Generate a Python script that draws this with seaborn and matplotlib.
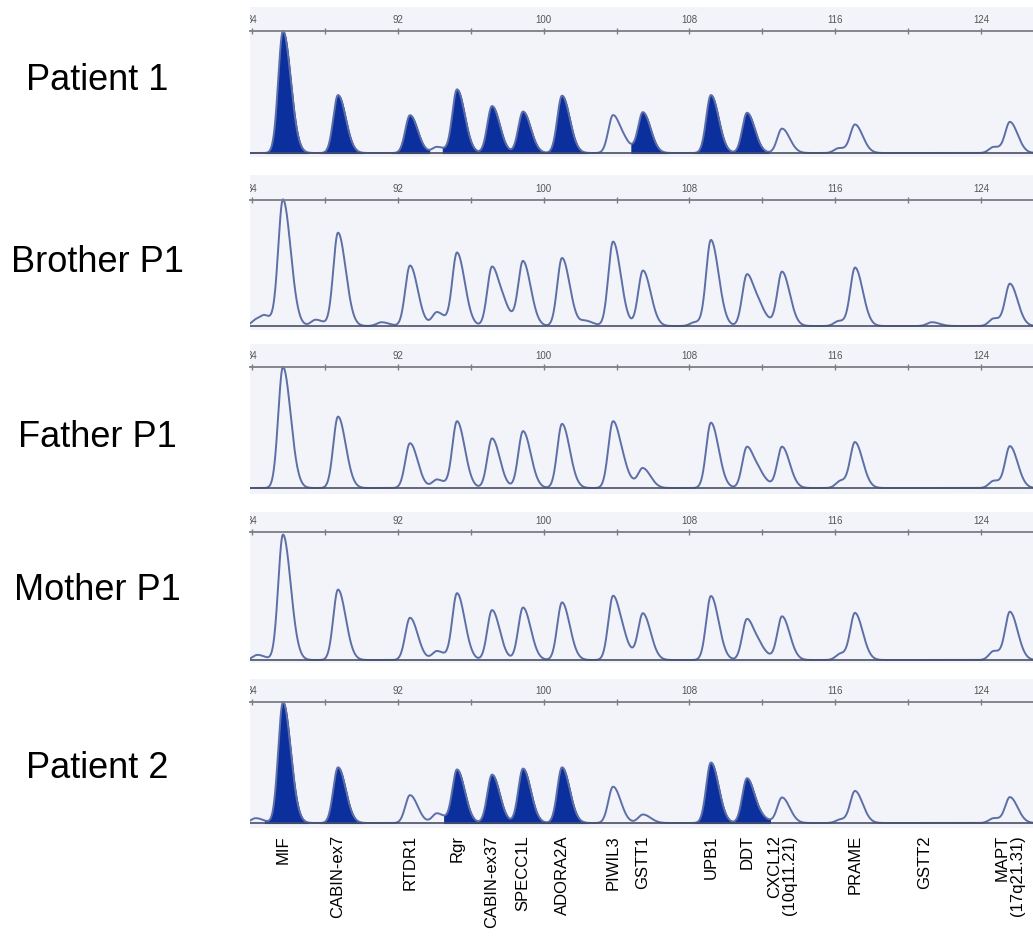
import numpy as np
import pandas as pd
import matplotlib
matplotlib.use("Agg")
import matplotlib.pyplot as plt
import matplotlib.transforms as mtransforms
import seaborn as sns

# probe positions (size units) and names
probes = ['MIF', 'CABIN-ex7', 'RTDR1', '', 'Rgr', 'CABIN-ex37', 'SPECC1L', 'ADORA2A',
          'PIWIL3', 'GSTT1', 'UPB1', 'DDT', 'CXCL12\n(10q11.21)', 'PRAME', 'GSTT2',
          'MAPT\n(17q21.31)']
positions = [85.70, 88.72, 92.67, 94.15, 95.25, 97.17, 98.87, 101.01,
             103.81, 105.45, 109.18, 111.16, 113.08, 117.09, 120.93, 125.59]

samples = ['Patient 1', 'Brother P1', 'Father P1', 'Mother P1', 'Patient 2']

# relative peak heights per sample (same order as probes)
h_patient1 = [1.00, 0.475, 0.31, 0.05, 0.52, 0.385, 0.34, 0.47,
              0.31, 0.33, 0.475, 0.33, 0.20, 0.23, 0.0, 0.25]
h_brother = [1.00, 0.74, 0.48, 0.11, 0.58, 0.47, 0.51, 0.54,
             0.67, 0.44, 0.68, 0.41, 0.43, 0.46, 0.0, 0.33]
h_father = [1.00, 0.59, 0.37, 0.07, 0.55, 0.41, 0.47, 0.53,
            0.55, 0.16, 0.54, 0.34, 0.34, 0.37, 0.0, 0.34]
h_mother = [0.98, 0.55, 0.33, 0.07, 0.52, 0.39, 0.41, 0.45,
            0.50, 0.36, 0.50, 0.32, 0.34, 0.36, 0.0, 0.37]
h_patient2 = [1.00, 0.46, 0.23, 0.08, 0.44, 0.40, 0.45, 0.46,
              0.30, 0.07, 0.50, 0.37, 0.21, 0.26, 0.0, 0.21]
heights = [h_patient1, h_brother, h_father, h_mother, h_patient2]

# small shoulders / baseline bumps (position, height)
bumps_patient1 = [(104.55, 0.05), (116.2, 0.04), (124.7, 0.05)]
bumps_brother = [(84.25, 0.05), (84.75, 0.06), (87.5, 0.05), (91.1, 0.03), (97.9, 0.10),
                 (102.3, 0.04), (108.3, 0.03), (111.9, 0.10), (116.2, 0.04),
                 (121.3, 0.03), (124.7, 0.06)]
bumps_father = [(104.5, 0.07), (111.9, 0.08), (116.3, 0.06), (124.7, 0.06)]
bumps_mother = [(84.3, 0.04), (104.5, 0.07), (111.9, 0.07), (116.3, 0.05), (124.7, 0.07)]
bumps_patient2 = [(84.2, 0.04), (112.0, 0.03), (116.3, 0.03), (124.7, 0.04)]
bumps = [bumps_patient1, bumps_brother, bumps_father, bumps_mother, bumps_patient2]

# which peaks are drawn filled (dosage-changed probes)
filled_patient1 = ['MIF', 'CABIN-ex7', 'RTDR1', 'Rgr', 'CABIN-ex37', 'SPECC1L',
                   'ADORA2A', 'GSTT1', 'UPB1', 'DDT']
filled_patient2 = ['MIF', 'CABIN-ex7', 'Rgr', 'CABIN-ex37', 'SPECC1L', 'ADORA2A',
                   'UPB1', 'DDT']
filled = [filled_patient1, [], [], [], filled_patient2]

major_ticks = [84, 92, 100, 108, 116, 124]
minor_ticks = [88, 96, 104, 112, 120]

# panel geometry in pixels: top, axis line, baseline, bottom
panels_px = [(7, 31, 153, 157), (175, 200, 326, 330), (344, 367, 488, 494),
             (512, 532, 660, 663), (679, 702, 823, 828)]
label_y_px = [80, 262, 437, 590, 768]

W, H = 1033, 938
xmin, xmax = 83.89, 126.85
x = np.linspace(xmin, xmax, 5000)

line_col = '#5d6fa6'
fill_col = '#0b2f9c'
bg_col = '#f2f4fa'

sns.set_style('white')
plt.rcParams['font.family'] = ['Liberation Sans', 'DejaVu Sans']

fig = plt.figure(figsize=(W / 100, H / 100), dpi=100)


def peak(p, h):
    s = np.where(x < p, 0.26, 0.42)
    return h * np.exp(-0.5 * ((x - p) / s) ** 2)


def valley(y, a, b):
    m = (x >= a) & (x <= b)
    return x[m][np.argmin(y[m])]


axes = []
for i, name in enumerate(samples):
    top, axl, base, bot = panels_px[i]
    ax = fig.add_axes([250 / W, (H - bot) / H, 1 - 250 / W, (bot - top) / H])
    ax.set_facecolor(bg_col)
    hpx = base - axl

    y = np.zeros_like(x)
    for p, hh in zip(positions, heights[i]):
        y += peak(p, hh)
    for p, hh in bumps[i]:
        y += peak(p, hh)

    df = pd.DataFrame({'size': x, 'signal': y})
    sns.lineplot(data=df, x='size', y='signal', ax=ax, color=line_col, lw=1.4)

    # filled peaks
    for j, pr in enumerate(probes):
        if pr not in filled[i]:
            continue
        p = positions[j]
        lo = p - 1.0
        hi = p + 1.4
        if j > 0:
            lo = max(lo, valley(y, positions[j - 1], p))
        if j < len(positions) - 1:
            hi = min(hi, valley(y, p, positions[j + 1]))
        m = (x >= lo) & (x <= hi)
        ax.fill_between(x, 0, y, where=m, color=fill_col, lw=0.8, interpolate=True)

    ax.axhline(0, color='#4a4f66', lw=1.2)
    ax.set_xlim(xmin, xmax)
    ax.set_ylim(-(bot - base) / hpx, 1 + (axl - top) / hpx)
    ax.set_xlabel('')
    ax.set_ylabel('')
    ax.set_yticks([])

    # size ruler along the top line
    for sp in ['left', 'right', 'bottom']:
        ax.spines[sp].set_visible(False)
    ax.spines['top'].set_position(('data', 1.0))
    ax.spines['top'].set_color('#7b7d85')
    ax.spines['top'].set_linewidth(1.3)
    ax.xaxis.set_ticks_position('top')
    ax.set_xticks(major_ticks)
    ax.set_xticks(minor_ticks, minor=True)
    ax.set_xticklabels([str(t) for t in major_ticks])
    ax.tick_params(axis='x', which='both', direction='inout', length=4, width=1,
                   color='#7b7d85', labelsize=7, labelcolor='#555555', pad=2)
    for lab in ax.get_xticklabels():
        lab.set_clip_on(True)
        lab.set_clip_box(ax.bbox)

    fig.text(97 / W, 1 - label_y_px[i] / H, name, fontsize=26, ha='center',
             va='center', color='black')
    axes.append(ax)

# probe names under the last panel
ax5 = axes[-1]
top5, _, _, bot5 = panels_px[-1]
trans = mtransforms.blended_transform_factory(ax5.transData, ax5.transAxes)
ylab = -(835 - bot5) / (bot5 - top5)
for pr, p in zip(probes, positions):
    if pr == '':
        continue
    ax5.text(p, ylab, pr, transform=trans, rotation=90, ha='center', va='top',
             multialignment='right', fontsize=12, color='black', linespacing=1.0)

fig.savefig('out.png', dpi=100)
